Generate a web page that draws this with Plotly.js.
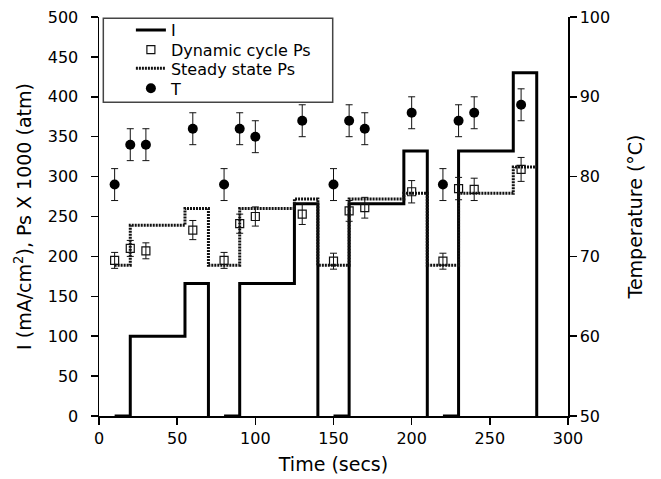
<!DOCTYPE html>
<html>
<head>
<meta charset="utf-8">
<script src="https://cdn.plot.ly/plotly-3.0.1.min.js"></script>
<style>html,body{margin:0;padding:0;background:#fff;}#chart{width:661px;height:479px;}</style>
</head>
<body>
<div id="chart"></div>
<script>
// Current I (mA/cm2), step profile (hv steps, null = gap between cycles)
const iTime  = [10, 20, 55, 70, null, 80, 90, 125, 140, null, 150, 160, 195, 210, null, 220, 230, 265, 280];
const iValue = [0, 100, 166, 0, null, 0, 166, 266, 0, null, 0, 266, 332, 0, null, 0, 332, 430, 0];

// Steady state Ps (x1000 atm), step profile
const ssTime  = [10, 20, 55, 70, 90, 125, 140, 160, 195, 210, 230, 265, 280];
const ssValue = [189, 239, 260, 189, 260, 272, 189, 272, 279, 189, 279, 312, 312];

// Dynamic cycle Ps (x1000 atm) with error bars
const dynTime  = [10, 20, 30, 60, 80, 90, 100, 130, 150, 160, 170, 200, 220, 230, 240, 270];
const dynValue = [195, 210, 207, 233, 195, 241, 250, 253, 194, 257, 261, 281, 194, 285, 284, 309];
const dynErr   = [10, 10, 10, 12, 10, 12, 12, 13, 10, 13, 13, 14, 10, 14, 14, 15];

// Temperature T (°C) with error bars
const tTime  = [10, 20, 30, 60, 80, 90, 100, 130, 150, 160, 170, 200, 220, 230, 240, 270];
const tValue = [79, 84, 84, 86, 79, 86, 85, 87, 79, 87, 86, 88, 79, 87, 88, 89];
const tErr   = [2, 2, 2, 2, 2, 2, 2, 2, 2, 2, 2, 2, 2, 2, 2, 2];

const FONT = "DejaVu Sans, Arial, sans-serif";

const traces = [
  {
    name: "I", legend: "legend", x: iTime, y: iValue, type: "scatter", mode: "lines",
    line: {color: "#000", width: 3, shape: "hv"}, connectgaps: false
  },
  {
    name: "Dynamic cycle Ps", legend: "legend2", x: dynTime, y: dynValue, type: "scatter", mode: "markers",
    marker: {symbol: "square-open", size: 8, color: "#111", line: {width: 1.2, color: "#111"}},
    error_y: {type: "data", array: dynErr, visible: true, color: "#111", thickness: 1, width: 3.5}
  },
  {
    name: "Steady state Ps", legend: "legend3", x: ssTime, y: ssValue, type: "scatter", mode: "lines",
    line: {color: "#111", width: 3, shape: "hv", dash: "2px,1px"}
  },
  {
    name: "T", legend: "legend4", x: tTime, y: tValue, yaxis: "y2", type: "scatter", mode: "markers",
    marker: {symbol: "circle", size: 10, color: "#000"},
    error_y: {type: "data", array: tErr, visible: true, color: "#111", thickness: 1, width: 3.5}
  }
];

const axisCommon = {
  showgrid: false, zeroline: false, showline: true, linecolor: "#000", linewidth: 1.5,
  ticks: "outside", ticklen: 7, tickwidth: 1.5, tickcolor: "#000",
  tickfont: {family: FONT, size: 16, color: "#000"}
};

function legendRow(yPos) {
  return {
    x: 0.068, y: yPos, xanchor: "left", yanchor: "middle",
    bgcolor: "rgba(0,0,0,0)", borderwidth: 0,
    font: {family: FONT, size: 16, color: "#000"}
  };
}

const layout = {
  width: 661, height: 479,
  margin: {l: 99, r: 93, t: 17, b: 63},
  paper_bgcolor: "#fff", plot_bgcolor: "#fff",
  font: {family: FONT, color: "#000"},
  showlegend: true,
  legend: legendRow(0.967),
  legend2: legendRow(0.918),
  legend3: legendRow(0.871),
  legend4: legendRow(0.821),
  xaxis: Object.assign({}, axisCommon, {
    range: [0, 300], dtick: 50, tick0: 0,
    title: {text: "Time (secs)", font: {family: FONT, size: 19, color: "#000"}, standoff: 11}
  }),
  yaxis: Object.assign({}, axisCommon, {
    range: [0, 500], dtick: 50, tick0: 0, ticklabelstandoff: 9,
    title: {text: "I (mA/cm<sup>2</sup>), Ps X 1000 (atm)", font: {family: FONT, size: 19, color: "#000"}, standoff: 11}
  }),
  yaxis2: Object.assign({}, axisCommon, {
    range: [50, 100], dtick: 10, tick0: 50, overlaying: "y", side: "right", anchor: "x",
    title: {text: "Temperature (°C)", font: {family: FONT, size: 19, color: "#000"}, standoff: 19}
  }),
  shapes: [{
    type: "rect", xref: "paper", yref: "paper",
    x0: 0.0092, x1: 0.4983, y0: 0.7862, y1: 0.997,
    line: {color: "#444", width: 1.5}, fillcolor: "rgba(0,0,0,0)", layer: "above"
  }]
};

Plotly.newPlot("chart", traces, layout, {displayModeBar: false, staticPlot: true});
</script>
</body>
</html>
